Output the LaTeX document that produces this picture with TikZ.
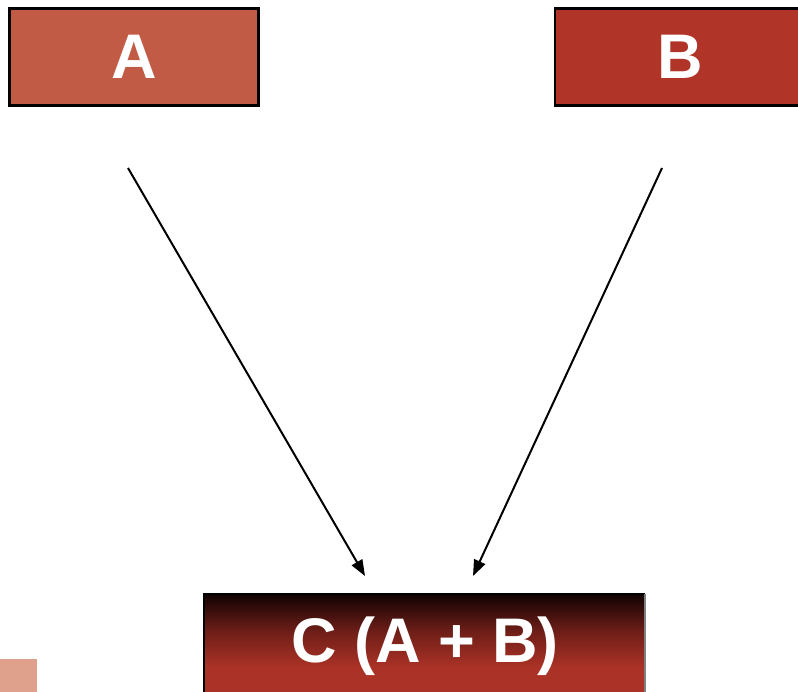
\documentclass[tikz,border=0pt]{standalone}
\usepackage{fontspec}
\setmainfont{Liberation Sans}
\usetikzlibrary{arrows.meta}
\definecolor{boxA}{RGB}{194,91,69}
\definecolor{boxB}{RGB}{176,52,39}
\definecolor{boxC}{RGB}{170,50,38}
\definecolor{boxCmid}{RGB}{110,30,24}
\definecolor{boxCtop}{RGB}{16,2,2}
\definecolor{swatch}{RGB}{224,161,140}
% dark top fading into red over the upper part of the result block
\pgfdeclareverticalshading{resultfade}{100bp}{
  color(0bp)=(boxC); color(25bp)=(boxC); color(38bp)=(boxC);
  color(56bp)=(boxCmid); color(75bp)=(boxCtop); color(100bp)=(boxCtop)}
\tikzset{
  x=1pt, y=-1pt,
  block/.style={draw=black, line width=2.6pt, text=white,
    font=\fontsize{63}{63}\selectfont\bfseries, inner sep=0pt},
  link/.style={line width=2pt, -{Triangle[length=16pt,width=12pt]}}
}
\begin{document}
\begin{tikzpicture}
  \useasboundingbox (0,0) rectangle (798,692);
  \fill[white] (0,0) rectangle (798,692);
  % input blocks
  \node[block, fill=boxA, minimum width=249pt, minimum height=97pt] (A) at (134,57) {A};
  \node[block, fill=boxB, minimum width=250pt, minimum height=97pt] (B) at (680,57) {B};
  % result block with vertical shading
  \shade[shading=resultfade] (204,594) rectangle (645,692);
  \draw[line width=2.4pt] (204,692) -- (204,594) -- (645,594);
  \draw[line width=1.2pt, gray] (645,594) -- (645,692);
  \node[text=white, font=\fontsize{63}{63}\selectfont\bfseries] (C) at (425,646) {C (A + B)};
  % corner swatch
  \fill[swatch] (0,659) rectangle (37,692);
  % connectors
  \coordinate (a1) at (128,168);
  \coordinate (b1) at (662,168);
  \coordinate (cA) at (365,576);
  \coordinate (cB) at (473,576);
  \draw[link] (a1) -- (cA);
  \draw[link] (b1) -- (cB);
\end{tikzpicture}
\end{document}
